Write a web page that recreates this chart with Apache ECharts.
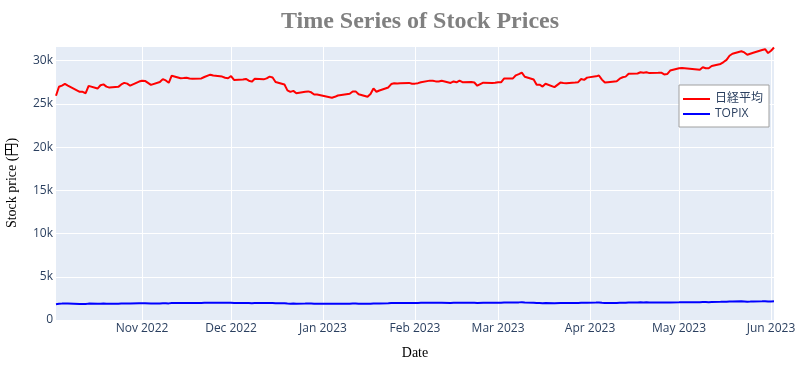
<!DOCTYPE html>
<html>
<head>
<meta charset="utf-8">
<script src="https://cdn.jsdelivr.net/npm/echarts@6/dist/echarts.min.js"></script>
<style>html,body{margin:0;padding:0;background:#fff}#c{width:800px;height:367px}</style>
</head>
<body>
<div id="c"></div>
<script>
var octDays = [3,4,5,6,7,11,12,13,14,17,18,19,20,21,24,25,26,27,28,31];
var novDays = [1,2,4,7,8,9,10,11,14,15,16,17,18,21,22,24,25,28,29,30];
var decDays = [1,2,5,6,7,8,9,12,13,14,15,16,19,20,21,22,23,26,27,28,29,30];
var janDays = [4,5,6,10,11,12,13,16,17,18,19,20,23,24,25,26,27,30,31];
var febDays = [1,2,3,6,7,8,9,10,13,14,15,16,17,20,21,22,24,27,28];
var marDays = [1,2,3,6,7,8,9,10,13,14,15,16,17,20,22,23,24,27,28,29,30,31];
var aprDays = [3,4,5,6,7,10,11,12,13,14,17,18,19,20,21,24,25,26,27,28];
var mayDays = [1,2,8,9,10,11,12,15,16,17,18,19,22,23,24,25,26,29,30,31];
var junDays = [1,2];

var nikkei = [
25937,26992,27120,27311,27116,26401,26397,26237,27090,26775,27156,27257,27006,26890,26974,27250,27431,27345,27105,27587,
27678,27663,27199,27527,27872,27716,27446,28263,27963,27990,28028,27930,27899,27944,28115,28383,28283,28162,28027,27968,
28226,27777,27820,27885,27686,27574,27901,27842,27954,28156,28051,27527,27237,26568,26387,26507,26235,26405,26447,26340,26093,26094,
25717,25820,25973,26175,26446,26449,26119,25822,26138,26791,26405,26553,26906,27299,27395,27362,27382,27433,27327,
27346,27402,27509,27693,27685,27606,27584,27670,27427,27602,27501,27696,27513,27531,27473,27104,27453,27423,27445,
27516,27498,27927,27950,28309,28444,28623,28143,27832,27222,27229,27010,27333,26945,27466,27419,27385,27476,27518,27883,27782,28041,
28188,28287,27813,27472,27518,27633,27923,28082,28156,28493,28514,28658,28606,28657,28564,28593,28620,28416,28457,28856,
29123,29157,28949,29242,29122,29126,29388,29626,29842,30093,30573,30808,31086,30957,30682,30801,30916,31233,31328,30888,
31148,31524];

var topix = [
1835,1890,1898,1909,1899,1862,1856,1848,1895,1875,1894,1901,1885,1874,1880,1899,1913,1905,1899,1929,
1935,1932,1906,1923,1943,1940,1922,1977,1962,1966,1972,1965,1969,1973,1985,2008,2001,1994,1990,1985,
1986,1956,1958,1968,1961,1952,1964,1958,1963,1971,1962,1935,1925,1898,1893,1904,1887,1897,1907,1898,1890,1892,
1868,1875,1879,1891,1904,1904,1889,1880,1887,1917,1900,1913,1935,1958,1970,1970,1974,1978,1975,
1972,1977,1982,1994,1994,1986,1985,1988,1977,1987,1985,1996,1987,1987,1983,1969,1987,1985,1993,
1998,1994,2016,2017,2031,2039,2054,2022,1999,1957,1958,1941,1960,1934,1961,1959,1955,1966,1972,2004,1997,2003,
2011,2016,1983,1955,1959,1970,1992,2003,2006,2029,2035,2043,2039,2043,2028,2028,2029,2017,2019,2036,
2057,2068,2055,2071,2070,2067,2081,2098,2107,2117,2137,2150,2161,2147,2124,2128,2137,2157,2166,2130,
2145,2160];

var monthTicks = ['2022-11-01','2022-12-01','2023-01-01','2023-02-01','2023-03-01','2023-04-01','2023-05-01','2023-06-01'];
var monthNames = ['Jan','Feb','Mar','Apr','May','Jun','Jul','Aug','Sep','Oct','Nov','Dec'];

function pad(n){return n<10?'0'+n:''+n;}
var dates = [];
[[2022,10,octDays],[2022,11,novDays],[2022,12,decDays],[2023,1,janDays],[2023,2,febDays],[2023,3,marDays],[2023,4,aprDays],[2023,5,mayDays],[2023,6,junDays]].forEach(function(m){
  m[2].forEach(function(d){dates.push(m[0]+'-'+pad(m[1])+'-'+pad(d));});
});
function ts(s){var p=s.split('-');return Date.UTC(+p[0],+p[1]-1,+p[2]);}
var nkData = dates.map(function(d,i){return [ts(d), nikkei[i]];});
var tpData = dates.map(function(d,i){return [ts(d), topix[i]];});
var tickVals = monthTicks.map(ts);

var chart = echarts.init(document.getElementById('c'), null, {renderer:'canvas'});
var labelColor = '#2a3f5f';
chart.setOption({
  animation:false,
  title:{
    text:'Time Series of Stock Prices',
    left:415, top:5, textAlign:'center',
    textStyle:{fontFamily:'Liberation Serif, Times New Roman, serif', fontWeight:'bold', fontSize:24, color:'#808080'}
  },
  legend:{
    orient:'vertical', left:679, top:85,
    backgroundColor:'#ffffff', borderColor:'#a0a0a0', borderWidth:1,
    padding:[8,6,7,4], itemGap:3, itemWidth:27, itemHeight:2, icon:'rect',
    textStyle:{color:labelColor, fontSize:12, fontFamily:'Open Sans, Noto Sans CJK JP, sans-serif', lineHeight:12},
    data:['日経平均','TOPIX']
  },
  grid:{left:56, right:26, top:46, bottom:47, show:true, backgroundColor:'#E5ECF6', borderWidth:0, outerBoundsMode:'none', containLabel:false},
  xAxis:{
    type:'value', min:tpData[0][0], max:tpData[tpData.length-1][0],
    name:'Date', nameLocation:'middle', nameGap:26,
    nameTextStyle:{fontFamily:'Liberation Serif, Times New Roman, serif', fontSize:14, color:'#000'},
    axisLine:{show:false}, axisTick:{show:false, customValues:tickVals},
    axisLabel:{customValues:tickVals, color:labelColor, fontSize:12, fontFamily:'Open Sans, sans-serif', margin:3,
      formatter:function(v){var d=new Date(v);return monthNames[d.getUTCMonth()]+' '+d.getUTCFullYear();}},
    splitLine:{show:true, lineStyle:{color:'#ffffff', width:1}}
  },
  yAxis:{
    type:'value', min:0, max:31700, interval:5000,
    name:'Stock price (円)', nameLocation:'middle', nameGap:37, nameRotate:90,
    nameTextStyle:{fontFamily:'Liberation Serif, Times New Roman, Noto Sans CJK JP, serif', fontSize:14, color:'#000'},
    axisLine:{show:false}, axisTick:{show:false},
    axisLabel:{color:labelColor, fontSize:12, fontFamily:'Open Sans, sans-serif', margin:3,
      formatter:function(v){return v===0?'0':(v/1000)+'k';}, showMaxLabel:false},
    splitLine:{show:true, lineStyle:{color:'#ffffff', width:1}}
  },
  series:[
    {name:'日経平均', type:'line', data:nkData, showSymbol:false, symbol:'none', lineStyle:{color:'#ff0000', width:2}, itemStyle:{color:'#ff0000'}},
    {name:'TOPIX', type:'line', data:tpData, showSymbol:false, symbol:'none', lineStyle:{color:'#0000ff', width:2}, itemStyle:{color:'#0000ff'}}
  ]
});
</script>
</body>
</html>
